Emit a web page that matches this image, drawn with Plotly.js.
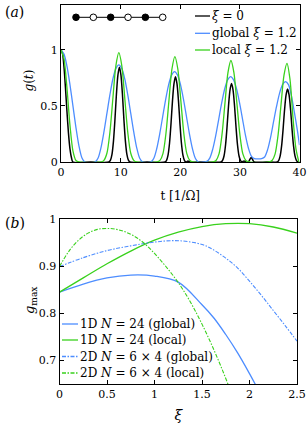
<!DOCTYPE html>
<html>
<head>
<meta charset="utf-8">
<script src="https://cdn.plot.ly/plotly-3.0.1.min.js"></script>
<style>html,body{margin:0;padding:0;background:#fff;}#plot{width:308px;height:423px;}</style>
</head>
<body>
<div id="plot"></div>
<script>
// ---------- Panel (a): g(t) ----------
const tBlack = [0,0.25,0.5,0.75,1,1.25,1.5,1.75,2, 5,
  8.05,8.3,8.55,8.8,9.05,9.3,9.55,9.8,10.05,10.3,10.55,10.8,11.05,11.3,11.55,
  14.5,
  17.45,17.7,17.95,18.2,18.45,18.7,18.95,19.2,19.45,19.7,19.95,20.2,20.45,20.7,20.95,21.3,21.6,
  24,
  26.85,27.1,27.35,27.6,27.85,28.1,28.35,28.6,28.85,29.1,29.35,29.6,29.85,30.1,30.35,30.7,31.0,31.4,31.65,31.9,32.15,32.4,
  34.5,
  36.25,36.5,36.75,37.0,37.25,37.5,37.75,38.0,38.25,38.5,38.75,39.0,39.25,39.5,39.75,40];
const gBlack = [1,0.97,0.85,0.66,0.45,0.26,0.12,0.04,0, 0,
  0,0.017,0.068,0.186,0.380,0.608,0.777,0.845,0.777,0.608,0.380,0.186,0.068,0.017,0,
  0,
  0,0.015,0.061,0.167,0.342,0.547,0.699,0.76,0.699,0.547,0.342,0.167,0.061,0.015,0,0.008,0,
  0,
  0,0.014,0.056,0.154,0.315,0.504,0.644,0.70,0.644,0.504,0.315,0.154,0.056,0.014,0,0.01,0,0,0.02,0.04,0.02,0,
  0,
  0,0.013,0.052,0.143,0.293,0.468,0.598,0.65,0.598,0.468,0.293,0.143,0.052,0.013,0,0];

const tGlobal = [0,0.5,1,1.5,2,2.5,3,3.5,4,
  5.7,6.2,6.7,7.2,7.7,8.2,8.7,9.2,9.7,10.2,10.7,11.2,11.7,12.2,12.7,13.2,13.7,
  15.05,15.55,16.05,16.55,17.05,17.55,18.05,18.55,19.05,19.55,20.05,20.55,21.05,21.55,22.05,22.55,23.05,
  24.45,24.95,25.45,25.95,26.45,26.95,27.45,27.95,28.45,28.95,29.45,29.95,30.45,30.95,31.45,31.95,32.45,33.05,33.65,
  34.15,34.65,35.15,35.65,36.15,36.65,37.15,37.65,38.15,38.65,39.15,39.65,40];
const gGlobal = [1,0.962,0.854,0.691,0.5,0.309,0.146,0.038,0,
  0,0.033,0.126,0.268,0.433,0.598,0.740,0.833,0.866,0.833,0.740,0.598,0.433,0.268,0.126,0.033,0,
  0,0.031,0.118,0.249,0.403,0.557,0.688,0.775,0.806,0.775,0.688,0.557,0.403,0.249,0.118,0.031,0,
  0.005,0.035,0.115,0.235,0.381,0.527,0.651,0.733,0.762,0.733,0.651,0.527,0.381,0.235,0.12,0.05,0.03,0.027,0.03,
  0.045,0.11,0.22,0.359,0.495,0.612,0.69,0.717,0.69,0.59,0.44,0.28,0.15];

const tLocal = [0,0.5,1,1.5,2,2.5,3,
  6.7,7.2,7.7,8.2,8.7,9.2,9.7,10.2,10.7,11.2,11.7,12.2,12.7,
  16.1,16.6,17.1,17.6,18.1,18.6,19.1,19.6,20.1,20.6,21.1,21.6,22.1,
  25.5,26,26.5,27,27.5,28,28.5,29,29.5,30,30.5,31,31.5,
  34.9,35.4,35.9,36.4,36.9,37.4,37.9,38.4,38.9,39.4,39.9];
const gLocal = [1,0.92,0.66,0.33,0.10,0.015,0,
  0,0.015,0.078,0.263,0.566,0.858,0.975,0.858,0.566,0.263,0.078,0.015,0,
  0,0.014,0.075,0.254,0.545,0.827,0.94,0.827,0.545,0.254,0.075,0.014,0,
  0,0.014,0.072,0.244,0.525,0.796,0.905,0.796,0.525,0.244,0.072,0.014,0,
  0,0.013,0.070,0.238,0.510,0.774,0.88,0.74,0.40,0.12,0];

// chain schematic: filled (1) / empty (0) sites
const chainFilled = [1,0,1,0,1,0];

// ---------- Panel (b): g_max vs xi ----------
const xi1DGlobal = [0,0.25,0.5,0.75,1.0,1.25,1.5,1.625,1.75,1.875,2.0,2.125];
const g1DGlobal  = [0.845,0.862,0.875,0.881,0.879,0.866,0.818,0.790,0.755,0.716,0.672,0.625];
const xi1DLocal  = [0,0.25,0.5,0.75,1.0,1.25,1.5,1.75,2.0,2.25,2.5];
const g1DLocal   = [0.845,0.875,0.905,0.932,0.955,0.972,0.984,0.990,0.990,0.983,0.970];
const xi2DGlobal = [0,0.25,0.5,0.75,1.0,1.25,1.5,1.625,1.75,1.875,2.0,2.125,2.25,2.375,2.5];
const g2DGlobal  = [0.899,0.918,0.933,0.943,0.951,0.954,0.946,0.934,0.917,0.896,0.868,0.838,0.806,0.774,0.741];
const xi2DLocal  = [0,0.1,0.2,0.3,0.4,0.5,0.6,0.7,0.8,0.9,1.0,1.1,1.2,1.3,1.4,1.5,1.6,1.7,1.8];
const g2DLocal   = [0.899,0.932,0.955,0.970,0.978,0.980,0.978,0.972,0.962,0.947,0.927,0.904,0.879,0.850,0.816,0.777,0.734,0.687,0.636];

const namesA = ['<i>ξ</i> = 0', 'global <i>ξ</i> = 1.2', 'local <i>ξ</i> = 1.2'];
const namesB = ['1D <i>N</i> = 24 (global)', '1D <i>N</i> = 24 (local)',
                '2D <i>N</i> = 6 × 4 (global)', '2D <i>N</i> = 6 × 4 (local)'];

// ---------- styling ----------
const W = 308, H = 423;
const px = x => x / W, py = y => 1 - y / H;
const BLACK = '#000000', BLUE = '#4d8dff', GREEN = '#39d11c';
const FONT = 'DejaVu Serif';
const DASHDOT = '4px,1.5px,1.5px,1.5px';

const traces = [
  {x: tBlack, y: gBlack, xaxis: 'x', yaxis: 'y', mode: 'lines', name: namesA[0],
   line: {color: BLACK, width: 1.5, shape: 'spline', smoothing: 0.8}},
  {x: tGlobal, y: gGlobal, xaxis: 'x', yaxis: 'y', mode: 'lines', name: namesA[1],
   line: {color: BLUE, width: 1.3, shape: 'spline', smoothing: 0.8}},
  {x: tLocal, y: gLocal, xaxis: 'x', yaxis: 'y', mode: 'lines', name: namesA[2],
   line: {color: GREEN, width: 1.3, shape: 'spline', smoothing: 0.8}},
  {x: xi1DGlobal, y: g1DGlobal, xaxis: 'x2', yaxis: 'y2', mode: 'lines', name: namesB[0],
   line: {color: BLUE, width: 1.3, shape: 'spline'}},
  {x: xi1DLocal, y: g1DLocal, xaxis: 'x2', yaxis: 'y2', mode: 'lines', name: namesB[1],
   line: {color: GREEN, width: 1.3, shape: 'spline'}},
  {x: xi2DGlobal, y: g2DGlobal, xaxis: 'x2', yaxis: 'y2', mode: 'lines', name: namesB[2],
   line: {color: BLUE, width: 1.1, dash: DASHDOT, shape: 'spline'}},
  {x: xi2DLocal, y: g2DLocal, xaxis: 'x2', yaxis: 'y2', mode: 'lines', name: namesB[3],
   line: {color: GREEN, width: 1.1, dash: DASHDOT, shape: 'spline'}}
];

const axBase = {
  showline: true, linecolor: BLACK, linewidth: 1, mirror: 'ticks',
  ticks: 'inside', ticklen: 4, tickwidth: 1, tickcolor: BLACK,
  showgrid: false, zeroline: false, automargin: false,
  tickfont: {family: FONT, size: 11, color: BLACK}
};

const legendA = {keyX0: 195, keyX1: 210, textX: 210, rows: [16, 33.3, 50]};
const legendB = {keyX0: 62, keyX1: 78, textX: 78, rows: [324, 340, 356.5, 373]};
const legendAColors = [BLACK, BLUE, GREEN];
const legendBColors = [BLUE, GREEN, BLUE, GREEN];
const legendBDash = ['solid', 'solid', DASHDOT, DASHDOT];
const chainLayout = {x0: 76, step: 17.34, y: 17.3, r: 3.3};

const shapes = [];
const annotations = [];
// chain schematic (decoration)
shapes.push({type: 'line', xref: 'paper', yref: 'paper',
  x0: px(chainLayout.x0), x1: px(chainLayout.x0 + chainLayout.step * (chainFilled.length - 1)),
  y0: py(chainLayout.y), y1: py(chainLayout.y), line: {color: BLACK, width: 1}});
chainFilled.forEach((f, i) => {
  const cx = chainLayout.x0 + chainLayout.step * i;
  shapes.push({type: 'circle', xref: 'paper', yref: 'paper',
    x0: px(cx - chainLayout.r), x1: px(cx + chainLayout.r),
    y0: py(chainLayout.y + chainLayout.r), y1: py(chainLayout.y - chainLayout.r),
    fillcolor: f ? BLACK : '#ffffff', line: {color: BLACK, width: 1}});
});
namesA.forEach((nm, i) => {
  shapes.push({type: 'line', xref: 'paper', yref: 'paper',
    x0: px(legendA.keyX0), x1: px(legendA.keyX1), y0: py(legendA.rows[i]), y1: py(legendA.rows[i]),
    line: {color: legendAColors[i], width: 1.3}});
  annotations.push({xref: 'paper', yref: 'paper', x: px(legendA.textX), y: py(legendA.rows[i]),
    xanchor: 'left', yanchor: 'middle', showarrow: false, text: nm,
    font: {family: FONT, size: 12, color: BLACK}});
});
namesB.forEach((nm, i) => {
  shapes.push({type: 'line', xref: 'paper', yref: 'paper',
    x0: px(legendB.keyX0), x1: px(legendB.keyX1), y0: py(legendB.rows[i]), y1: py(legendB.rows[i]),
    line: {color: legendBColors[i], width: 1.3, dash: legendBDash[i]}});
  annotations.push({xref: 'paper', yref: 'paper', x: px(legendB.textX), y: py(legendB.rows[i]),
    xanchor: 'left', yanchor: 'middle', showarrow: false, text: nm,
    font: {family: FONT, size: 12, color: BLACK}});
});
// panel labels
annotations.push({xref: 'paper', yref: 'paper', x: px(3), y: py(12.5), xanchor: 'left', yanchor: 'middle',
  showarrow: false, text: '(<i>a</i>)', font: {family: FONT, size: 14, color: BLACK}});
annotations.push({xref: 'paper', yref: 'paper', x: px(3), y: py(222.5), xanchor: 'left', yanchor: 'middle',
  showarrow: false, text: '(<i>b</i>)', font: {family: FONT, size: 14, color: BLACK}});
// y-axis titles
annotations.push({xref: 'paper', yref: 'paper', x: px(28.5), y: py(81), xanchor: 'center', yanchor: 'middle',
  textangle: -90, showarrow: false, text: '<i>g</i>(<i>t</i>)', font: {family: FONT, size: 12, color: BLACK}});
annotations.push({xref: 'paper', yref: 'paper', x: px(30), y: py(300), xanchor: 'center', yanchor: 'middle',
  textangle: -90, showarrow: false, text: '<i>g</i><sub>max</sub>', font: {family: FONT, size: 13, color: BLACK}});

const layout = {
  width: W, height: H,
  margin: {l: 0, r: 0, t: 0, b: 0},
  paper_bgcolor: '#ffffff', plot_bgcolor: 'rgba(0,0,0,0)',
  showlegend: false,
  font: {family: FONT, color: BLACK},
  xaxis: Object.assign({}, axBase, {domain: [px(61), px(299.5)], anchor: 'y', range: [0, 40], dtick: 10,
    title: {text: 't [1/Ω]', font: {family: FONT, size: 12, color: BLACK}, standoff: 13}}),
  yaxis: Object.assign({}, axBase, {domain: [py(162), py(5)], anchor: 'x', range: [0, 1.4], dtick: 0.5}),
  xaxis2: Object.assign({}, axBase, {domain: [px(59.5), px(297)], anchor: 'y2', range: [0, 2.5], dtick: 0.5,
    title: {text: '<i>ξ</i>', font: {family: FONT, size: 14, color: BLACK}, standoff: 9}}),
  yaxis2: Object.assign({}, axBase, {domain: [py(384), py(219)], anchor: 'x2', range: [0.65, 1], dtick: 0.1}),
  shapes: shapes,
  annotations: annotations
};

Plotly.newPlot('plot', traces, layout, {displayModeBar: false, staticPlot: true}).then(() => {
  // drop Plotly's hidden text-measurement helper so only drawn texts remain
  const tester = document.getElementById('js-plotly-tester');
  if (tester) tester.remove();
});
</script>
</body>
</html>
